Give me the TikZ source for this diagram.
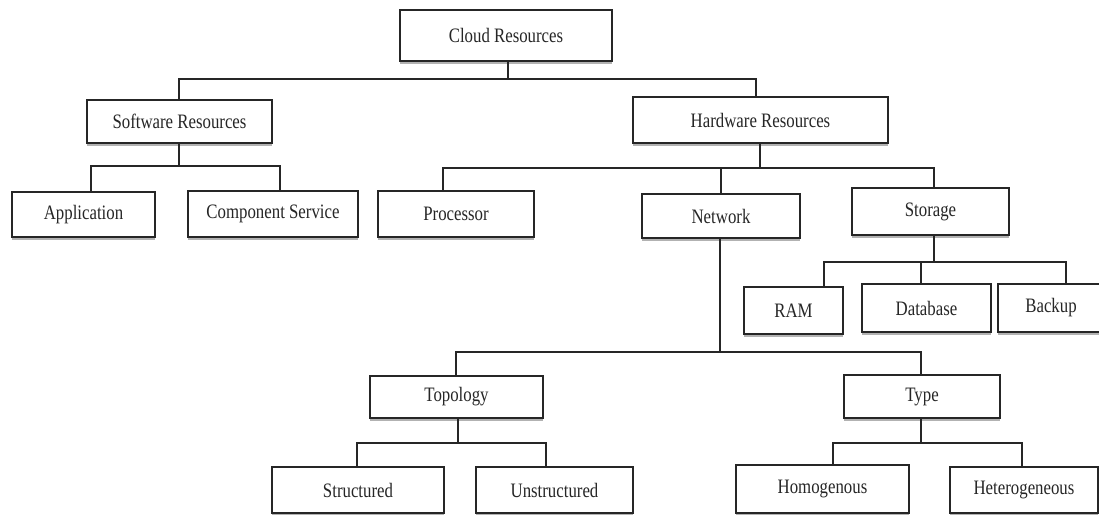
\documentclass[tikz,border=0pt]{standalone}
\usepackage{fontspec}
\setmainfont{Liberation Serif}[FakeStretch=0.82]
\usetikzlibrary{shadows}
\tikzset{
  box/.style={draw=black!85, line width=1.4pt, fill=white, inner sep=0pt,
    font=\fontsize{20.5}{24}\selectfont, text=black!85,
    drop shadow={shadow xshift=0pt, shadow yshift=-3pt, fill=black!30, opacity=1}},
  link/.style={draw=black!85, line width=1.2pt}
}
\begin{document}
\begin{tikzpicture}[x=1pt,y=-1pt]
\useasboundingbox (0,0) rectangle (1099,514);
\clip (0,0) rectangle (1099,514);
% nodes
\node[box, minimum width=212pt, minimum height=51pt] (cloud) at (506,35.5) {Cloud Resources};
\node[box, minimum width=185pt, minimum height=43pt] (soft) at (179.5,121.5) {Software Resources};
\node[box, minimum width=255pt, minimum height=46pt] (hard) at (760.5,120) {Hardware Resources};
\node[box, minimum width=143pt, minimum height=45pt] (app) at (83.5,214.5) {Application};
\node[box, minimum width=170pt, minimum height=46pt] (comp) at (273,214) {Component Service};
\node[box, minimum width=156pt, minimum height=46pt] (proc) at (456,214) {Processor};
\node[box, minimum width=158pt, minimum height=44pt] (net) at (721,216) {Network};
\node[box, minimum width=157pt, minimum height=47pt] (stor) at (930.5,211.5) {Storage};
\node[box, minimum width=99pt, minimum height=47pt] (ram) at (793.5,310.5) {RAM};
\node[box, minimum width=129pt, minimum height=48pt] (db) at (926.5,308) {Database};
\node[box, minimum width=106pt, minimum height=48pt] (backup) at (1051,308) {Backup};
\node[box, minimum width=173pt, minimum height=42pt] (topo) at (456.5,397) {Topology};
\node[box, minimum width=156pt, minimum height=43pt] (type) at (922,396.5) {Type};
\node[box, minimum width=172pt, minimum height=46pt] (struct) at (358,490) {Structured};
\node[box, minimum width=157pt, minimum height=46pt] (unstruct) at (554.5,490) {Unstructured};
\node[box, minimum width=173pt, minimum height=48pt] (homo) at (822.5,489) {Homogenous};
\node[box, minimum width=148pt, minimum height=46pt] (hetero) at (1024,490) {Heterogeneous};
% junction coordinates
\coordinate (j0) at (508,79);
\coordinate (j0l) at (179,79);
\coordinate (j0r) at (756,79);
\coordinate (j1) at (179,166);
\coordinate (j1l) at (91,166);
\coordinate (j1r) at (280,166);
\coordinate (j2) at (760,168);
\coordinate (j2l) at (443,168);
\coordinate (j2m) at (721,168);
\coordinate (j2r) at (934,168);
\coordinate (j3) at (934,262);
\coordinate (j3l) at (824,262);
\coordinate (j3m) at (921,262);
\coordinate (j3r) at (1066,262);
\coordinate (j4) at (720,352);
\coordinate (j4l) at (456,352);
\coordinate (j4r) at (921,352);
\coordinate (j5) at (458,443);
\coordinate (j5l) at (357,443);
\coordinate (j5r) at (546,443);
\coordinate (j6) at (921,443);
\coordinate (j6l) at (833,443);
\coordinate (j6r) at (1022,443);
% connectors
\draw[link] (j0 |- cloud.south) -- (j0);
\draw[link] (soft.north -| j0l) -- (j0l) -- (j0r) -- (hard.north -| j0r);
\draw[link] (soft.south -| j1) -- (j1);
\draw[link] (app.north -| j1l) -- (j1l) -- (j1r) -- (comp.north -| j1r);
\draw[link] (hard.south -| j2) -- (j2);
\draw[link] (proc.north -| j2l) -- (j2l) -- (j2r) -- (stor.north -| j2r);
\draw[link] (j2m) -- (net.north -| j2m);
\draw[link] (stor.south -| j3) -- (j3);
\draw[link] (ram.north -| j3l) -- (j3l) -- (j3r) -- (backup.north -| j3r);
\draw[link] (j3m) -- (db.north -| j3m);
\draw[link] (net.south -| j4) -- (j4);
\draw[link] (topo.north -| j4l) -- (j4l) -- (j4r) -- (type.north -| j4r);
\draw[link] (topo.south -| j5) -- (j5);
\draw[link] (struct.north -| j5l) -- (j5l) -- (j5r) -- (unstruct.north -| j5r);
\draw[link] (type.south -| j6) -- (j6);
\draw[link] (homo.north -| j6l) -- (j6l) -- (j6r) -- (hetero.north -| j6r);
\end{tikzpicture}
\end{document}
